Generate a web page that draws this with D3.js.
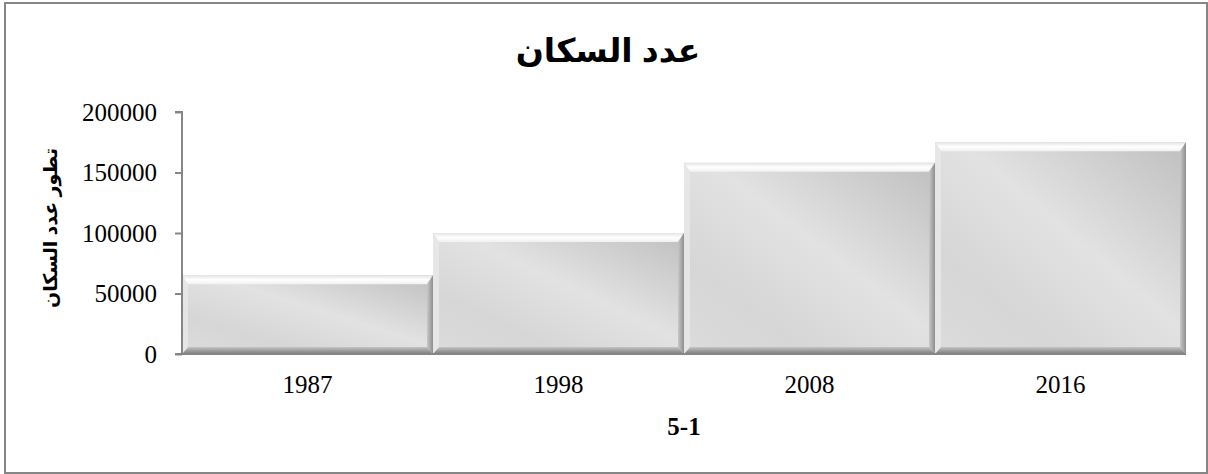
<!DOCTYPE html>
<html>
<head>
<meta charset="utf-8">
<script src="https://cdn.jsdelivr.net/npm/d3@7"></script>
<style>
  body { margin: 0; background: #fff; }
  svg { display: block; }
  .serif { font-family: "Liberation Serif", "Times New Roman", "DejaVu Serif", serif; }
  .arabic { font-family: "Liberation Sans", Arial, "DejaVu Sans", sans-serif; font-weight: bold; }
</style>
</head>
<body>
<svg id="chart"></svg>
<script>
const years = ["1987", "1998", "2008", "2016"];
const population = [65000, 100000, 158000, 175000];
const yTicks = [0, 50000, 100000, 150000, 200000];
const chartTitle = "عدد السكان";
const yTitle = "تطور عدد السكان";
const xTitle = "5-1";

const W = 1208, H = 474;
const margin = { left: 182, right: 22, top: 112, bottom: 120 };
const width = W - margin.left - margin.right;
const height = H - margin.top - margin.bottom;

const svg = d3.select("#chart").attr("width", W).attr("height", H);

// outer frame
svg.append("rect")
  .attr("x", 5).attr("y", 3)
  .attr("width", W - 6).attr("height", H - 4)
  .attr("fill", "#fff")
  .attr("stroke", "#868686")
  .attr("stroke-width", 2);

const defs = svg.append("defs");
const face = defs.append("linearGradient").attr("id", "face")
  .attr("x1", 1).attr("y1", 0).attr("x2", 0).attr("y2", 1);
face.append("stop").attr("offset", 0).attr("stop-color", "#bfbfbf");
face.append("stop").attr("offset", 0.45).attr("stop-color", "#e2e2e2");
face.append("stop").attr("offset", 0.75).attr("stop-color", "#d6d6d6");
face.append("stop").attr("offset", 1).attr("stop-color", "#dcdcdc");

const topG = defs.append("linearGradient").attr("id", "bevTop")
  .attr("x1", 0).attr("y1", 0).attr("x2", 0).attr("y2", 1);
topG.append("stop").attr("offset", 0).attr("stop-color", "#e4e4e4");
topG.append("stop").attr("offset", 0.5).attr("stop-color", "#ffffff");
topG.append("stop").attr("offset", 1).attr("stop-color", "#f0f0f0");

const botG = defs.append("linearGradient").attr("id", "bevBot")
  .attr("x1", 0).attr("y1", 0).attr("x2", 0).attr("y2", 1);
botG.append("stop").attr("offset", 0).attr("stop-color", "#c4c4c4");
botG.append("stop").attr("offset", 1).attr("stop-color", "#7a7a7a");

const rightG = defs.append("linearGradient").attr("id", "bevRight")
  .attr("x1", 0).attr("y1", 0).attr("x2", 1).attr("y2", 0);
rightG.append("stop").attr("offset", 0).attr("stop-color", "#c8c8c8");
rightG.append("stop").attr("offset", 1).attr("stop-color", "#8e8e8e");

const g = svg.append("g").attr("transform", `translate(${margin.left},${margin.top})`);

const x = d3.scaleBand().domain(years).range([0, width]).padding(0);
const y = d3.scaleLinear().domain([0, 200000]).range([height, 0]);

// bars with bevel
const bt = 9, bb = 7, bs = 6;
const bars = g.selectAll(".bar").data(years).join("g").attr("class", "bar");
bars.each(function (d, i) {
  const b = d3.select(this);
  const x0 = x(d), x1 = x(d) + x.bandwidth();
  const y0 = y(population[i]), y1 = y(0);
  b.append("rect").attr("x", x0).attr("y", y0)
    .attr("width", x1 - x0).attr("height", y1 - y0).attr("fill", "url(#face)");
  // top bevel
  b.append("path").attr("fill", "url(#bevTop)")
    .attr("d", `M${x0},${y0}L${x1},${y0}L${x1 - bs},${y0 + bt}L${x0 + bs},${y0 + bt}Z`);
  // bottom bevel
  b.append("path").attr("fill", "url(#bevBot)")
    .attr("d", `M${x0},${y1}L${x1},${y1}L${x1 - bs},${y1 - bb}L${x0 + bs},${y1 - bb}Z`);
  // left bevel
  b.append("path").attr("fill", "#e8e8e8").attr("opacity", 0.8)
    .attr("d", `M${x0},${y0}L${x0 + bs},${y0 + bt}L${x0 + bs},${y1 - bb}L${x0},${y1}Z`);
  // right bevel
  b.append("path").attr("fill", "url(#bevRight)")
    .attr("d", `M${x1},${y0}L${x1 - bs},${y0 + bt}L${x1 - bs},${y1 - bb}L${x1},${y1}Z`);
});

// y axis
const yAxis = g.append("g").call(d3.axisLeft(y).tickValues(yTicks).tickSize(7).tickPadding(18).tickFormat(d3.format("d")));
yAxis.select(".domain").attr("stroke", "#868686").attr("stroke-width", 2).attr("d", `M-7,0H0V${height}H-7`);
yAxis.selectAll(".tick line").attr("stroke", "#868686").attr("stroke-width", 2);
yAxis.selectAll(".tick text").attr("class", "serif").attr("font-size", 25).attr("fill", "#000");

// x axis
const xAxis = g.append("g").attr("transform", `translate(0,${height})`)
  .call(d3.axisBottom(x).tickSize(0).tickPadding(16));
xAxis.select(".domain").attr("stroke", "#868686").attr("stroke-width", 2).attr("d", `M-7,0H${width}`);
xAxis.selectAll(".tick text").attr("class", "serif").attr("font-size", 25).attr("fill", "#000")
  .attr("dy", null).attr("y", 39);

// titles
svg.append("text").attr("class", "arabic")
  .attr("x", 608).attr("y", 62)
  .attr("text-anchor", "middle").attr("font-size", 33)
  .text(chartTitle);

svg.append("text").attr("class", "arabic")
  .attr("transform", `translate(57,228) rotate(-90)`)
  .attr("text-anchor", "middle").attr("font-size", 19)
  .text(yTitle);

svg.append("text").attr("class", "serif")
  .attr("x", margin.left + width / 2).attr("y", 435)
  .attr("text-anchor", "middle").attr("font-size", 25).attr("font-weight", "bold")
  .text(xTitle);
</script>
</body>
</html>
